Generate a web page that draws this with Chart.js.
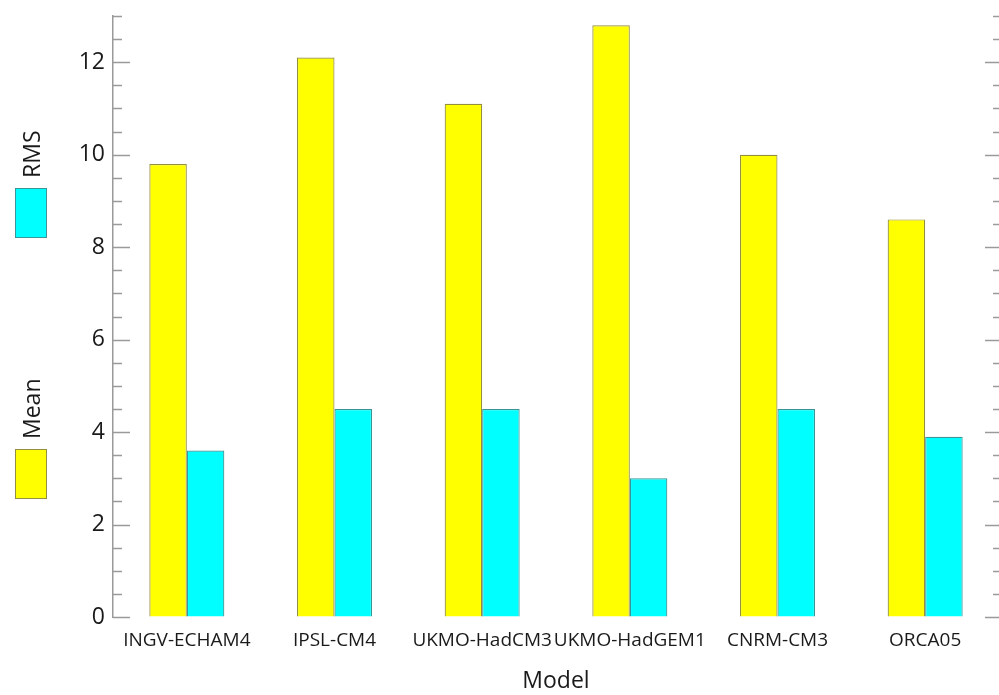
<!DOCTYPE html>
<html>
<head>
<meta charset="utf-8">
<title>Mean and RMS by model</title>
<script src="https://cdn.jsdelivr.net/npm/chart.js@4.4.1/dist/chart.umd.min.js"></script>
<style>
  html, body { margin: 0; padding: 0; background: #fff; }
  #wrap { width: 999px; height: 695px; }
</style>
</head>
<body>
<div id="wrap"><canvas id="chart" width="999" height="695"></canvas></div>
<script>
// data
const categories = ['INGV-ECHAM4', 'IPSL-CM4', 'UKMO-HadCM3', 'UKMO-HadGEM1', 'CNRM-CM3', 'ORCA05'];
const meanValues = [9.8, 12.1, 11.1, 12.8, 10.0, 8.6];
const rmsValues = [3.6, 4.5, 4.5, 3.0, 4.5, 3.9];
const seriesNames = ['Mean', 'RMS'];
const yMin = 0;
const yMax = 13;
const yMajorStep = 2;
const yMinorStep = 0.5;
const xTitle = 'Model';

const FONT = '"Open Sans", "Noto Sans", sans-serif';
const AXIS_GREY = '#9a9a9a';

// ticks point inward on both sides of the plot, long ones every major step
const innerTicks = {
  id: 'innerTicks',
  afterDraw(chart) {
    const { ctx, chartArea } = chart;
    const y = chart.scales.y;
    ctx.save();
    ctx.strokeStyle = AXIS_GREY;
    ctx.lineWidth = 1.5;
    y.ticks.forEach(t => {
      const py = Math.round(y.getPixelForValue(t.value)) + 0.5;
      const major = Math.abs(t.value % yMajorStep) < 1e-6;
      const lenL = major ? 17 : 9;
      const lenR = major ? 14 : 6;
      ctx.beginPath();
      ctx.moveTo(chartArea.left, py);
      ctx.lineTo(chartArea.left + lenL, py);
      ctx.moveTo(chartArea.right, py);
      ctx.lineTo(chartArea.right - lenR, py);
      ctx.stroke();
    });
    ctx.restore();
  }
};

// legend on the far left: colour box with the name written upwards above it
const sideLegend = {
  id: 'sideLegend',
  afterDraw(chart) {
    const { ctx } = chart;
    const boxes = [
      { ds: 0, x: 15, y: 449, w: 32, h: 50 },
      { ds: 1, x: 15, y: 188, w: 32, h: 50 }
    ];
    ctx.save();
    boxes.forEach(b => {
      const ds = chart.data.datasets[b.ds];
      ctx.fillStyle = ds.backgroundColor;
      ctx.fillRect(b.x, b.y, b.w, b.h);
      ctx.strokeStyle = ds.borderColor;
      ctx.lineWidth = 1;
      ctx.strokeRect(b.x + 0.5, b.y + 0.5, b.w - 1, b.h - 1);

      ctx.save();
      ctx.translate(b.x + 25, b.y - 10);
      ctx.rotate(-Math.PI / 2);
      ctx.fillStyle = '#1a1a1a';
      ctx.font = '23px ' + FONT;
      ctx.textAlign = 'left';
      ctx.textBaseline = 'alphabetic';
      ctx.fillText(ds.label, 0, 0);
      ctx.restore();
    });
    ctx.restore();
  }
};

const ctx = document.getElementById('chart').getContext('2d');
new Chart(ctx, {
  type: 'bar',
  data: {
    labels: categories,
    datasets: [
      {
        label: seriesNames[0],
        data: meanValues,
        backgroundColor: '#ffff00',
        borderColor: '#948f3e',
        borderWidth: 1.2
      },
      {
        label: seriesNames[1],
        data: rmsValues,
        backgroundColor: '#00ffff',
        borderColor: '#3a9696',
        borderWidth: 1.2
      }
    ]
  },
  options: {
    responsive: false,
    animation: false,
    events: [],
    layout: { padding: { top: 16, right: 0, bottom: 0, left: 0 } },
    datasets: {
      bar: { categoryPercentage: 0.508, barPercentage: 1.0 }
    },
    scales: {
      x: {
        grid: { display: false, drawTicks: false },
        border: { display: false },
        ticks: {
          color: '#1a1a1a',
          font: { family: FONT, size: 19 },
          padding: 12,
          maxRotation: 0,
          autoSkip: false
        },
        title: {
          display: true,
          text: xTitle,
          color: '#1a1a1a',
          font: { family: FONT, size: 23 },
          padding: { top: 0, bottom: 0 }
        },
        afterFit(scale) {
          scale.height = 78;
          scale.paddingLeft = 0;
          scale.paddingRight = 0;
        }
      },
      y: {
        min: yMin,
        max: yMax,
        grid: { drawOnChartArea: false, drawTicks: false },
        border: { display: true, color: AXIS_GREY, width: 1.5 },
        ticks: {
          stepSize: yMinorStep,
          autoSkip: false,
          color: '#1a1a1a',
          font: { family: FONT, size: 23 },
          padding: 8,
          callback(v) {
            return Math.abs(v % yMajorStep) < 1e-6 ? String(v) : '';
          }
        },
        afterFit(scale) {
          scale.width = 113;
          scale.paddingTop = 0;
          scale.paddingBottom = 0;
        }
      }
    },
    plugins: {
      legend: { display: false },
      tooltip: { enabled: false }
    }
  },
  plugins: [innerTicks, sideLegend]
});
</script>
</body>
</html>
